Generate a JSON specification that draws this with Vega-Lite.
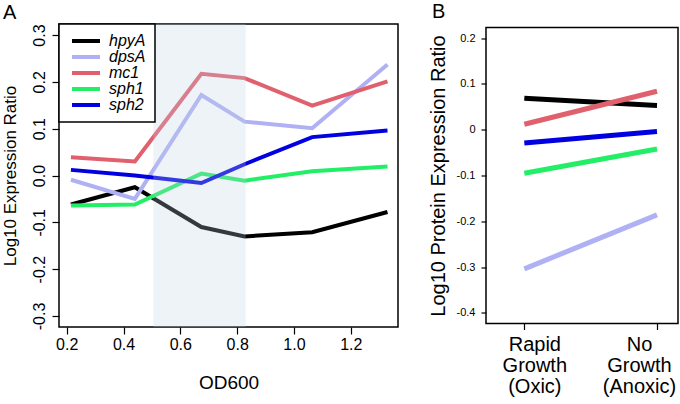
{
  "$schema": "https://vega.github.io/schema/vega-lite/v6.json",
  "padding": {"left": 0, "top": 0, "right": 0, "bottom": 0},
  "background": "white",
  "config": {
    "font": "Liberation Sans",
    "view": {"stroke": "black", "strokeWidth": 1.5},
    "axis": {"grid": false, "domain": false, "tickColor": "black", "tickWidth": 1.2, "labelColor": "black", "titleColor": "black", "titleFontWeight": "normal"},
    "title": {"fontWeight": "normal", "color": "black"}
  },
  "datasets": {
    "rna": [
      {"gene": "hpyA", "od": 0.215, "ratio": -0.062},
      {"gene": "hpyA", "od": 0.44, "ratio": -0.025},
      {"gene": "hpyA", "od": 0.674, "ratio": -0.110},
      {"gene": "hpyA", "od": 0.826, "ratio": -0.130},
      {"gene": "hpyA", "od": 1.064, "ratio": -0.121},
      {"gene": "hpyA", "od": 1.329, "ratio": -0.078},
      {"gene": "dpsA", "od": 0.215, "ratio": -0.009},
      {"gene": "dpsA", "od": 0.44, "ratio": -0.050},
      {"gene": "dpsA", "od": 0.674, "ratio": 0.172},
      {"gene": "dpsA", "od": 0.826, "ratio": 0.115},
      {"gene": "dpsA", "od": 1.064, "ratio": 0.101},
      {"gene": "dpsA", "od": 1.329, "ratio": 0.237},
      {"gene": "mc1", "od": 0.215, "ratio": 0.039},
      {"gene": "mc1", "od": 0.44, "ratio": 0.030},
      {"gene": "mc1", "od": 0.674, "ratio": 0.217},
      {"gene": "mc1", "od": 0.826, "ratio": 0.208},
      {"gene": "mc1", "od": 1.064, "ratio": 0.149},
      {"gene": "mc1", "od": 1.329, "ratio": 0.201},
      {"gene": "sph1", "od": 0.215, "ratio": -0.064},
      {"gene": "sph1", "od": 0.44, "ratio": -0.062},
      {"gene": "sph1", "od": 0.674, "ratio": 0.004},
      {"gene": "sph1", "od": 0.826, "ratio": -0.011},
      {"gene": "sph1", "od": 1.064, "ratio": 0.009},
      {"gene": "sph1", "od": 1.329, "ratio": 0.019},
      {"gene": "sph2", "od": 0.215, "ratio": 0.012},
      {"gene": "sph2", "od": 0.44, "ratio": 0.0},
      {"gene": "sph2", "od": 0.674, "ratio": -0.016},
      {"gene": "sph2", "od": 0.826, "ratio": 0.024},
      {"gene": "sph2", "od": 1.064, "ratio": 0.082},
      {"gene": "sph2", "od": 1.329, "ratio": 0.096}
    ],
    "shade": [{"start": 0.505, "end": 0.83}],
    "protein": [
      {"gene": "hpyA", "condition": "Rapid Growth (Oxic)", "ratio": 0.069},
      {"gene": "hpyA", "condition": "No Growth (Anoxic)", "ratio": 0.053},
      {"gene": "dpsA", "condition": "Rapid Growth (Oxic)", "ratio": -0.304},
      {"gene": "dpsA", "condition": "No Growth (Anoxic)", "ratio": -0.186},
      {"gene": "mc1", "condition": "Rapid Growth (Oxic)", "ratio": 0.012},
      {"gene": "mc1", "condition": "No Growth (Anoxic)", "ratio": 0.084},
      {"gene": "sph1", "condition": "Rapid Growth (Oxic)", "ratio": -0.095},
      {"gene": "sph1", "condition": "No Growth (Anoxic)", "ratio": -0.042},
      {"gene": "sph2", "condition": "Rapid Growth (Oxic)", "ratio": -0.029},
      {"gene": "sph2", "condition": "No Growth (Anoxic)", "ratio": -0.004}
    ]
  },
  "spacing": 88,
  "bounds": "flush",
  "center": true,
  "hconcat": [
    {
      "width": 339,
      "height": 303,
      "title": {"text": "A", "fontSize": 20, "anchor": "start", "frame": "group", "dx": -56, "offset": 1},
      "layer": [
        {
          "data": {"name": "rna"},
          "mark": {"type": "line", "strokeWidth": 4, "clip": true},
          "encoding": {
            "x": {"field": "od", "type": "quantitative",
              "scale": {"domain": [0.173, 1.366], "nice": false, "zero": false},
              "axis": {"values": [0.2, 0.4, 0.6, 0.8, 1.0, 1.2], "format": ".1f", "title": "OD600", "titleFontSize": 19, "titlePadding": 21, "labelFontSize": 16, "tickSize": 7, "labelPadding": 2}},
            "y": {"field": "ratio", "type": "quantitative",
              "scale": {"domain": [-0.3235, 0.3235], "nice": false},
              "axis": {"values": [-0.3, -0.2, -0.1, 0, 0.1, 0.2, 0.3], "labelExpr": "replace(format(datum.value, '.1f'), '\u2212', '-')", "title": "Log10 Expression Ratio", "titleFontSize": 17, "titlePadding": 12, "labelFontSize": 16, "tickSize": 7, "labelAngle": 270, "labelAlign": "center", "labelBaseline": "bottom", "labelPadding": 5}},
            "color": {"field": "gene", "type": "nominal",
              "scale": {"domain": ["hpyA", "dpsA", "mc1", "sph1", "sph2"], "range": ["#000000", "#b0b0f5", "#e0606e", "#22ee66", "#0000e0"]},
              "legend": {"title": null, "orient": "top-left", "offset": 0, "fillColor": "white", "strokeColor": "black", "padding": 9,
                "symbolType": "M-0.8,0H4.8", "symbolSize": 100, "symbolStrokeWidth": 4, "symbolOffset": 0,
                "labelFontSize": 16, "labelFontStyle": "italic", "labelColor": "black", "labelOffset": 25, "rowPadding": 0,
                "encode": {"legend": {"update": {"strokeWidth": {"value": 1.5}}}}}}
          }
        },
        {
          "data": {"name": "shade"},
          "mark": {"type": "rect", "color": "rgb(191,210,228)", "opacity": 0.27},
          "encoding": {
            "x": {"field": "start", "type": "quantitative"},
            "x2": {"field": "end"}
          }
        }
      ]
    },
    {
      "width": 192,
      "height": 296,
      "title": {"text": "B", "fontSize": 20, "anchor": "start", "frame": "group", "dx": -54, "offset": 6},
      "data": {"name": "protein"},
      "mark": {"type": "line", "strokeWidth": 5},
      "encoding": {
        "x": {"field": "condition", "type": "nominal", "sort": ["Rapid Growth (Oxic)", "No Growth (Anoxic)"],
          "scale": {"type": "point", "padding": 0.2235, "align": 0.646},
          "axis": {"title": null, "labelAngle": 0, "labelFontSize": 20, "labelLineHeight": 21, "labelBaseline": "top", "labelPadding": 5, "tickSize": 6,
            "labelAlign": "center",
            "labelOffset": {"condition": {"test": "datum.value == 'Rapid Growth (Oxic)'", "value": 10}, "value": -18},
            "labelExpr": "datum.value == 'Rapid Growth (Oxic)' ? ['Rapid', 'Growth', '(Oxic)'] : ['No', 'Growth', '(Anoxic)']"}},
        "y": {"field": "ratio", "type": "quantitative",
          "scale": {"domain": [-0.4234, 0.2234], "nice": false},
          "axis": {"values": [-0.4, -0.3, -0.2, -0.1, 0, 0.1, 0.2], "labelExpr": "datum.value == 0 ? '0' : replace(format(datum.value, '.1f'), '\u2212', '-')", "title": "Log10 Protein Expression Ratio", "titleFontSize": 20, "titlePadding": 8, "labelFontSize": 11, "tickSize": 5, "labelPadding": 6}},
        "color": {"field": "gene", "type": "nominal",
          "scale": {"domain": ["hpyA", "dpsA", "mc1", "sph1", "sph2"], "range": ["#000000", "#b0b0f5", "#e0606e", "#22ee66", "#0000e0"]},
          "legend": null}
      }
    }
  ]
}
